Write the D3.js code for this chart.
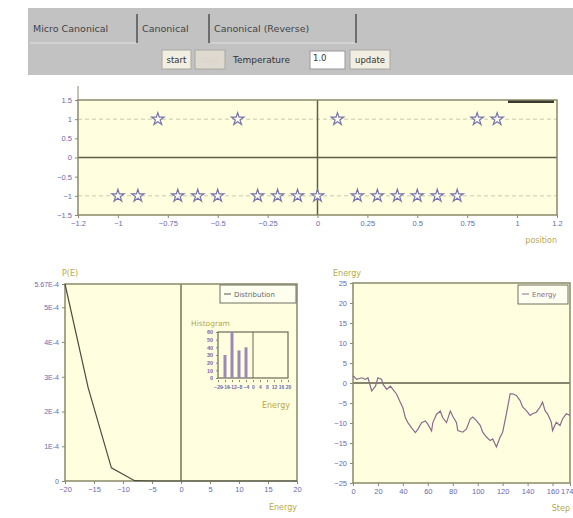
<!DOCTYPE html>
<html>
<head>
<meta charset="utf-8">
<script src="https://cdn.jsdelivr.net/npm/d3@7"></script>
<style>
  body { margin: 0; background: #fff; }
  svg { display: block; font-family: "DejaVu Sans", sans-serif; }
  .tick text { fill: #6a68b0; }
  .axis path, .axis line { stroke: #8a8a6a; }
</style>
</head>
<body>
<script>
// spin chain: position of each spin and its state
var spinPos = [-1, -0.9, -0.8, -0.7, -0.6, -0.5, -0.4, -0.3, -0.2, -0.1,
               0, 0.1, 0.2, 0.3, 0.4, 0.5, 0.6, 0.7, 0.8, 0.9];
var spinVal = [-1, -1, 1, -1, -1, -1, 1, -1, -1, -1,
               -1, 1, -1, -1, -1, -1, -1, -1, 1, 1];
var posTicks = [-1.2, -1, -0.75, -0.5, -0.25, 0, 0.25, 0.5, 0.75, 1, 1.2];
var spinTicks = [-1.5, -1, -0.5, 0, 0.5, 1, 1.5];

// energy distribution
var distE = [-20, -16, -12, -8, -4, 0, 4, 8, 12, 16, 20];
var distP = [5.67e-4, 2.68e-4, 0.38e-4, 0.01e-4, 0, 0, 0, 0, 0, 0, 0];
var distXTicks = [-20, -15, -10, -5, 0, 5, 10, 15, 20];
var distYTicks = [0, 1e-4, 2e-4, 3e-4, 4e-4, 5e-4, 5.67e-4];

// histogram inset
var histE = [-16, -12, -8, -4];
var histN = [30, 60, 36, 40];
var histXTicks = [-20, -16, -12, -8, -4, 0, 4, 8, 12, 16, 20];
var histYTicks = [0, 10, 20, 30, 40, 50, 60];

// energy vs step
var steps = [0, 3, 7, 10, 12, 15, 18, 20, 23, 24, 27, 30, 32, 35, 38, 40, 42, 44, 47, 50,
             52, 55, 58, 60, 63, 64, 67, 70, 72, 75, 78, 80, 83, 84, 88, 91, 94, 96, 99, 102,
             104, 107, 110, 112, 115, 118, 120, 123, 126, 128, 131, 134, 136, 139, 142, 144, 147, 150, 152, 154,
             156, 159, 160, 163, 166, 168, 171, 174];
var energy = [1.8, 0.9, 1.3, 0.9, 1.3, -2, -0.8, 1.3, 0.9, -0.3, -1.6, -0.8, -1.6, -2.8, -4.9, -6.2, -8.7, -9.9, -11.2, -12.4,
              -11.6, -9.9, -9.5, -10.3, -12, -9.9, -7.8, -7, -8.7, -9.9, -7, -8.3, -9.9, -11.9, -12.3, -11.5, -9, -8.5, -9.4, -10.6,
              -12.3, -13.5, -14.4, -14, -16, -13.5, -12.3, -7.7, -2.7, -2.7, -3.1, -4.4, -6, -6.9, -8.1, -7.7, -7.3, -6, -4.8, -6.9,
              -7.7, -9.8, -11.9, -9.8, -10.6, -9, -7.7, -8.1];
var stepTicks = [0, 20, 40, 60, 80, 100, 120, 140, 160, 174];
var energyTicks = [-25, -20, -15, -10, -5, 0, 5, 10, 15, 20, 25];

var tabs = ["Micro Canonical", "Canonical", "Canonical (Reverse)"];

var W = 573, H = 518;
var plotBg = "#ffffe0", frame = "#8a8a6a", zeroCol = "#5e5e48", olive = "#b8a848";

var svg = d3.select("body").append("svg").attr("width", W).attr("height", H);

// ---------- header panel ----------
svg.append("rect").attr("x", 28).attr("y", 8).attr("width", W - 28).attr("height", 67).attr("fill", "#c2c2c2");
var tabX = [30, 139, 211];
var tabEnd = [137, 209, 356];
tabs.forEach(function(t, i) {
    if (i != 1) {
        svg.append("line").attr("x1", tabX[i]).attr("x2", tabEnd[i]).attr("y1", 43).attr("y2", 43)
           .attr("stroke", "#e2e2e2");
    }
    svg.append("line").attr("x1", tabEnd[i]).attr("x2", tabEnd[i]).attr("y1", 14).attr("y2", 43)
       .attr("stroke", "#404040").attr("stroke-width", 1.3);
    svg.append("text").attr("x", tabX[i] + 3).attr("y", 32).attr("font-size", 9.5).attr("fill", "#444")
       .text(t);
});

function button(x, w, label, disabled) {
    svg.append("rect").attr("x", x).attr("y", 50).attr("width", w).attr("height", 19)
       .attr("fill", disabled ? "#dedad0" : "#f2eee2").attr("stroke", "#a8a8a0");
    svg.append("text").attr("x", x + w / 2).attr("y", 63).attr("text-anchor", "middle")
       .attr("font-size", 8.5).attr("fill", disabled ? "#d8d4cc" : "#333").text(label);
}
button(162, 29, "start", false);
button(195, 30, "stop", true);
svg.append("text").attr("x", 233).attr("y", 63).attr("font-size", 9).attr("fill", "#333").text("Temperature");
svg.append("rect").attr("x", 310).attr("y", 51).attr("width", 35).attr("height", 18).attr("fill", "#fff")
   .attr("stroke", "#999");
svg.append("text").attr("x", 313).attr("y", 61).attr("font-size", 8.5).attr("fill", "#333").text("1.0");
button(350, 40, "update", false);

// helper for styling axes
function styleAxis(g, fs) {
    g.attr("class", "axis");
    g.select(".domain").remove();
    g.selectAll(".tick line").attr("stroke", frame);
    g.selectAll(".tick text").attr("font-size", fs);
}

// ---------- top chart: spins ----------
var t = {l: 78, r: 557, t: 100, b: 215};
var xPos = d3.scaleLinear().domain([-1.2, 1.2]).range([t.l, t.r]);
var ySpin = d3.scaleLinear().domain([-1.5, 1.5]).range([t.b, t.t]);

svg.append("rect").attr("x", t.l).attr("y", t.t).attr("width", t.r - t.l).attr("height", t.b - t.t)
   .attr("fill", plotBg);
[1, -1].forEach(function(v) {
    svg.append("line").attr("x1", t.l).attr("x2", t.r).attr("y1", ySpin(v)).attr("y2", ySpin(v))
       .attr("stroke", "#c8c8b0").attr("stroke-dasharray", "4,3");
});
svg.append("line").attr("x1", t.l).attr("x2", t.r).attr("y1", ySpin(0)).attr("y2", ySpin(0))
   .attr("stroke", zeroCol).attr("stroke-width", 1.5);
svg.append("line").attr("x1", xPos(0)).attr("x2", xPos(0)).attr("y1", t.t).attr("y2", t.b)
   .attr("stroke", zeroCol).attr("stroke-width", 1.5);
svg.append("rect").attr("x", t.l).attr("y", t.t).attr("width", t.r - t.l).attr("height", t.b - t.t)
   .attr("fill", "none").attr("stroke", frame).attr("stroke-width", 1.5);

svg.append("g").attr("transform", "translate(0," + t.b + ")")
   .call(d3.axisBottom(xPos).tickValues(posTicks).tickSize(3).tickFormat(d3.format("")))
   .call(styleAxis, 7.5);
svg.append("g").attr("transform", "translate(" + t.l + ",0)")
   .call(d3.axisLeft(ySpin).tickValues(spinTicks).tickSize(3).tickFormat(d3.format("")))
   .call(styleAxis, 7.5);
svg.append("line").attr("x1", t.l).attr("x2", t.l).attr("y1", 86).attr("y2", t.t).attr("stroke", frame);

var star = d3.symbol().type(d3.symbolStar).size(48);
svg.selectAll(".spin").data(spinPos).enter().append("path").attr("class", "spin")
   .attr("d", star)
   .attr("transform", function(d, i) { return "translate(" + xPos(d) + "," + ySpin(spinVal[i]) + ")"; })
   .attr("fill", "#fdfdf4").attr("stroke", "#7674a8").attr("stroke-width", 1.2);

svg.append("rect").attr("x", 508).attr("y", 100.5).attr("width", 46).attr("height", 2.5).attr("fill", "#3a3a30");
svg.append("text").attr("x", 557).attr("y", 243).attr("text-anchor", "end").attr("font-size", 8)
   .attr("fill", olive).text("position");

// ---------- bottom left: distribution ----------
var d = {l: 65, r: 297, t: 284, b: 481};
var xE = d3.scaleLinear().domain([-20, 20]).range([d.l, d.r]);
var yP = d3.scaleLinear().domain([0, 5.67e-4]).range([d.b, d.t]);

svg.append("rect").attr("x", d.l).attr("y", d.t).attr("width", d.r - d.l).attr("height", d.b - d.t)
   .attr("fill", plotBg);
svg.append("line").attr("x1", xE(0)).attr("x2", xE(0)).attr("y1", d.t).attr("y2", d.b)
   .attr("stroke", zeroCol).attr("stroke-width", 1.3);
svg.append("rect").attr("x", d.l).attr("y", d.t).attr("width", d.r - d.l).attr("height", d.b - d.t)
   .attr("fill", "none").attr("stroke", frame).attr("stroke-width", 1.5);
svg.append("g").attr("transform", "translate(0," + d.b + ")")
   .call(d3.axisBottom(xE).tickValues(distXTicks).tickSize(3))
   .call(styleAxis, 7.5);
svg.append("g").attr("transform", "translate(" + d.l + ",0)")
   .call(d3.axisLeft(yP).tickValues(distYTicks).tickSize(3).tickFormat(function(v) {
       if (v == 0) return "0";
       return (v / 1e-4).toFixed(v == 5.67e-4 ? 2 : 0) + "E-4";
   }))
   .call(styleAxis, 7);

var distLine = d3.line().x(function(v, i) { return xE(distE[i]); }).y(function(v) { return yP(v); });
svg.append("path").datum(distP).attr("d", distLine).attr("fill", "none")
   .attr("stroke", "#4c4c40").attr("stroke-width", 1.2);

svg.append("text").attr("x", 62).attr("y", 276).attr("font-size", 8).attr("fill", olive).text("P(E)");
svg.append("text").attr("x", 297).attr("y", 510).attr("text-anchor", "end").attr("font-size", 8)
   .attr("fill", olive).text("Energy");

// legend
svg.append("rect").attr("x", 220).attr("y", 285).attr("width", 76).attr("height", 18)
   .attr("fill", "#fffff0").attr("stroke", "#707060");
svg.append("line").attr("x1", 224).attr("x2", 231).attr("y1", 294).attr("y2", 294).attr("stroke", "#555");
svg.append("text").attr("x", 234).attr("y", 297).attr("font-size", 7).attr("fill", "#666").text("Distribution");

// histogram inset
var h = {l: 218, r: 288, t: 332, b: 378};
var xH = d3.scaleLinear().domain([-20, 20]).range([h.l, h.r]);
var yH = d3.scaleLinear().domain([0, 60]).range([h.b, h.t]);
svg.append("rect").attr("x", h.l).attr("y", h.t).attr("width", h.r - h.l).attr("height", h.b - h.t)
   .attr("fill", "none").attr("stroke", "#6a6a58").attr("stroke-width", 1.2);
svg.append("line").attr("x1", xH(0)).attr("x2", xH(0)).attr("y1", h.t).attr("y2", h.b)
   .attr("stroke", "#6a6a58");
svg.selectAll(".hbar").data(histN).enter().append("rect").attr("class", "hbar")
   .attr("x", function(v, i) { return xH(histE[i]) - 1.5; }).attr("width", 3)
   .attr("y", function(v) { return yH(v); }).attr("height", function(v) { return h.b - yH(v); })
   .attr("fill", "#9a88b8");
svg.append("g").attr("transform", "translate(0," + (h.b + 2) + ")")
   .call(d3.axisBottom(xH).tickValues(histXTicks).tickSize(2))
   .call(styleAxis, 5)
   .selectAll(".tick text").attr("font-weight", "bold");
svg.append("g").attr("transform", "translate(" + h.l + ",0)")
   .call(d3.axisLeft(yH).tickValues(histYTicks).tickSize(2))
   .call(styleAxis, 5.5)
   .selectAll(".tick text").attr("font-weight", "bold");
svg.append("text").attr("x", 191).attr("y", 326).attr("font-size", 7.5).attr("fill", olive).text("Histogram");
svg.append("text").attr("x", 290).attr("y", 408).attr("text-anchor", "end").attr("font-size", 8)
   .attr("fill", olive).text("Energy");

// ---------- bottom right: energy trace ----------
var e = {l: 353, r: 570, t: 283, b: 483};
var xS = d3.scaleLinear().domain([0, 174]).range([e.l, e.r]);
var yEn = d3.scaleLinear().domain([-25, 25]).range([e.b, e.t]);

svg.append("rect").attr("x", e.l).attr("y", e.t).attr("width", e.r - e.l).attr("height", e.b - e.t)
   .attr("fill", plotBg);
svg.append("line").attr("x1", e.l).attr("x2", e.r).attr("y1", yEn(0)).attr("y2", yEn(0))
   .attr("stroke", zeroCol).attr("stroke-width", 1.3);
svg.append("rect").attr("x", e.l).attr("y", e.t).attr("width", e.r - e.l).attr("height", e.b - e.t)
   .attr("fill", "none").attr("stroke", frame).attr("stroke-width", 1.5);
var stepAxis = svg.append("g").attr("transform", "translate(0," + e.b + ")")
   .call(d3.axisBottom(xS).tickValues(stepTicks).tickSize(3))
   .call(styleAxis, 7.5);
stepAxis.selectAll(".tick text").filter(function(v) { return v == 174; }).attr("text-anchor", "end").attr("dx", 3);
svg.append("g").attr("transform", "translate(" + e.l + ",0)")
   .call(d3.axisLeft(yEn).tickValues(energyTicks).tickSize(3))
   .call(styleAxis, 7.5);

var enLine = d3.line().x(function(v, i) { return xS(steps[i]); }).y(function(v) { return yEn(v); });
svg.append("path").datum(energy).attr("d", enLine).attr("fill", "none")
   .attr("stroke", "#8a6a8e").attr("stroke-width", 1.2);

svg.append("text").attr("x", 333).attr("y", 276).attr("font-size", 8).attr("fill", olive).text("Energy");
svg.append("text").attr("x", 570).attr("y", 511).attr("text-anchor", "end").attr("font-size", 8)
   .attr("fill", olive).text("Step");

svg.append("rect").attr("x", 518).attr("y", 285).attr("width", 50).attr("height", 19)
   .attr("fill", "#fffff0").attr("stroke", "#707060");
svg.append("line").attr("x1", 522).attr("x2", 529).attr("y1", 294).attr("y2", 294).attr("stroke", "#8a6a8e");
svg.append("text").attr("x", 532).attr("y", 297).attr("font-size", 7).attr("fill", "#8a6a8e").text("Energy");
</script>
</body>
</html>
